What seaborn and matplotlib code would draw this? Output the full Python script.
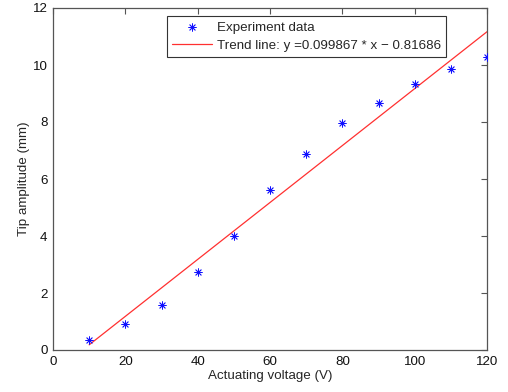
import numpy as np
import pandas as pd
import matplotlib
matplotlib.use("Agg")
import matplotlib.pyplot as plt
import seaborn as sns

# Measured tip amplitude against actuating voltage
voltage = [10, 20, 30, 40, 50, 60, 70, 80, 90, 100, 110, 120]
amplitude = [0.36, 0.91, 1.59, 2.75, 3.99, 5.61, 6.88, 7.95, 8.66, 9.33, 9.86, 10.27]

# Linear fit coefficients
slope = 0.099867
intercept = -0.81686

x_ticks = [0, 20, 40, 60, 80, 100, 120]
y_ticks = [0, 2, 4, 6, 8, 10, 12]

sns.set_style("white")
plt.rcParams["font.family"] = ["Liberation Sans", "DejaVu Sans"]
fs = 9.6
plt.rcParams["font.size"] = fs

df = pd.DataFrame({"voltage": voltage, "amplitude": amplitude})
df["trend"] = slope * df["voltage"] + intercept

fig = plt.figure(figsize=(5.08, 3.92), dpi=100)
ax = fig.add_axes([53 / 508, 1 - 350 / 392, 434 / 508, 342 / 392])

sns.scatterplot(data=df, x="voltage", y="amplitude", ax=ax, marker=(8, 2, 0),
                s=28, color="#1010ff", edgecolor="#1010ff", linewidth=0.6,
                label="Experiment data", zorder=3)
sns.lineplot(data=df, x="voltage", y="trend", ax=ax, color="#ff3030",
             linewidth=0.9,
             label=f"Trend line: y ={slope} * x \u2212 {abs(intercept)}")

ax.set_xlim(0, 120)
ax.set_ylim(0, 12)
ax.set_xticks(x_ticks)
ax.set_yticks(y_ticks)
ax.set_xlabel("Actuating voltage (V)", fontsize=fs, labelpad=2)
ax.set_ylabel("Tip amplitude (mm)", fontsize=fs, labelpad=2)

for s in ax.spines.values():
    s.set_color("#555555")
    s.set_linewidth(0.9)
ax.tick_params(direction="in", length=4, width=0.8, color="#555555",
               top=True, right=True, labelsize=fs, pad=4,
               labelcolor="#111111")

leg = ax.legend(loc="upper left", bbox_to_anchor=(167 / 508, 1 - 16 / 392),
                bbox_transform=fig.transFigure, frameon=True, fancybox=False,
                edgecolor="#333333", framealpha=1, handlelength=3.0,
                handletextpad=0.35, borderpad=0.4, labelspacing=0.42,
                borderaxespad=0, fontsize=fs)
leg.get_frame().set_linewidth(0.8)

fig.savefig("out.png", dpi=100)
